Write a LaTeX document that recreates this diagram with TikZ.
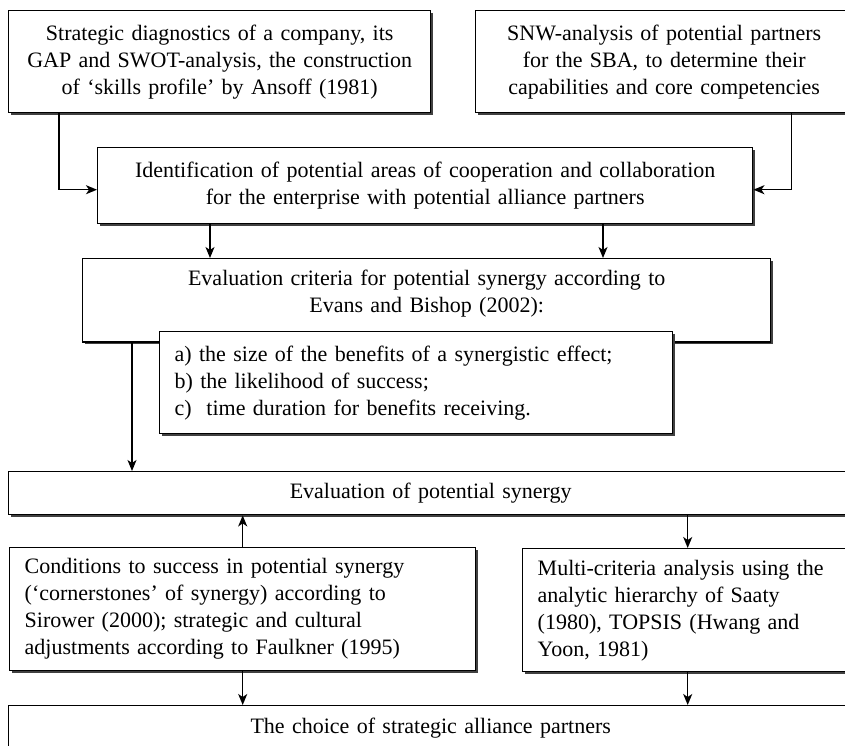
\documentclass[tikz,border=0pt]{standalone}
\usepackage{fontspec}
\setmainfont{Liberation Serif}
\usetikzlibrary{arrows.meta,shadows}

\begin{document}
\begin{tikzpicture}[x=1pt, y=-1pt, line width=1.4pt,
    box/.style = {draw, fill=white, anchor=north west, inner xsep=15pt, inner ysep=4pt,
      font=\fontsize{22}{27}\selectfont,
      drop shadow={shadow xshift=2pt, shadow yshift=-2pt, fill=black!75, opacity=1}},
    arr/.style = {-{Stealth[length=11pt, width=9pt, inset=3pt]}}]
    \useasboundingbox (0,0) rectangle (845,745);
    \node[box, align=center, text width=392pt, minimum height=102pt] (diag) at (8,10)
      {Strategic diagnostics of a company, its\\ GAP and SWOT-analysis, the construction\\ of `skills profile' by Ansoff (1981)};
    \node[box, align=center, text width=347pt, minimum height=102pt] (snw) at (475,10)
      {SNW-analysis of potential partners\\ for the SBA, to determine their\\ capabilities and core competencies};
    \node[box, align=center, text width=625pt, minimum height=76pt] (ident) at (97,147)
      {Identification of potential areas of cooperation and collaboration\\ for the enterprise with potential alliance partners};
    \node[box, align=center, text width=658pt, inner ysep=11pt, text depth=46pt] (crit) at (82,258)
      {Evaluation criteria for potential synergy according to\\ Evans and Bishop (2002):};
    \node[box, align=left, text width=483pt, minimum height=102pt] (list) at (159,331)
      {a) the size of the benefits of a synergistic effect;\\ b) the likelihood of success;\\ c)\ \ time duration for benefits receiving.};
    \node[box, align=center, text width=814pt, minimum height=43pt] (eval) at (8,471)
      {Evaluation of potential synergy};
    \node[box, align=left, text width=436pt, minimum height=123pt] (cond) at (9,547)
      {Conditions to success in potential synergy\\ (`cornerstones' of synergy) according to\\ Sirower (2000); strategic and cultural\\ adjustments according to Faulkner (1995)};
    \node[box, align=left, text width=300pt, minimum height=123pt] (multi) at (522,548)
      {Multi-criteria analysis using the\\ analytic hierarchy of Saaty\\ (1980), TOPSIS (Hwang and\\ Yoon, 1981)};
    \node[box, align=center, text width=814pt, minimum height=45pt] (choice) at (8,705)
      {The choice of strategic alliance partners};
    \draw[arr] ([xshift=51pt]diag.south west) |- ([yshift=-4pt]ident.west);
    \draw[arr] ([xshift=-62pt]snw.south east) |- ([yshift=-4pt]ident.east);
    \draw[arr] ([xshift=113pt]ident.south west) -- ([xshift=113pt]ident.south west |- crit.north);
    \draw[arr] ([xshift=506pt]ident.south west) -- ([xshift=506pt]ident.south west |- crit.north);
    \draw[arr] ([xshift=50pt]crit.south west) -- ([xshift=50pt]crit.south west |- eval.north);
    \draw[arr] (cond.north) -- (cond.north |- eval.south);
    \draw[arr] (eval.south -| multi.north) -- (multi.north);
    \draw[arr] (cond.south) -- (cond.south |- choice.north);
    \draw[arr] (multi.south) -- (multi.south |- choice.north);
\end{tikzpicture}
\end{document}
